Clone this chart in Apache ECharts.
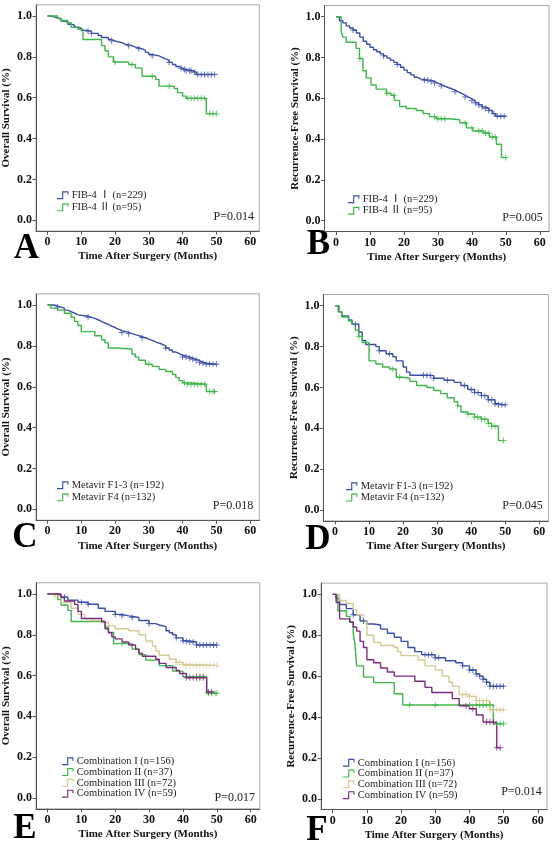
<!DOCTYPE html>
<html><head><meta charset="utf-8">
<script src="https://cdn.jsdelivr.net/npm/echarts@6/dist/echarts.min.js"></script>
<style>html,body{margin:0;padding:0;background:#fff}#c{width:553px;height:844px}</style>
</head><body><div id="c"></div>
<script>
// ---------- tick labels ----------
const xTicks = [0, 10, 20, 30, 40, 50, 60];
const yTicks = [0, 0.2, 0.4, 0.6, 0.8, 1.0];
const xTitle = "Time After Surgery (Months)";
const yTitleOS = "Overall Survival (%)";
const yTitleRFS = "Recurrence-Free Survival (%)";

// ---------- legend names ----------
const namesFIB = ["FIB-4 Ⅰ (n=229)", "FIB-4 Ⅱ (n=95)"];
const namesMeta = ["Metavir F1-3 (n=192)", "Metavir F4 (n=132)"];
const namesComb = ["Combination I (n=156)", "Combination II (n=37)", "Combination III (n=72)", "Combination IV (n=59)"];
const pValues = ["P=0.014", "P=0.005", "P=0.018", "P=0.045", "P=0.017", "P=0.014"];
const panelLetters = ["A", "B", "C", "D", "E", "F"];

// ---------- Panel A: OS by FIB-4 ----------
const aBlueT = [0,1,2,3,4,5,6,7,8,9,10,12,13,15,16,18,19,20,22,23,25,26,28,29,30,31,33,34,35,36,37,38,39,40,41,43,44,49.5];
const aBlueS = [1,0.996,0.99,0.985,0.975,0.97,0.96,0.955,0.945,0.94,0.93,0.925,0.915,0.905,0.895,0.885,0.878,0.87,0.862,0.855,0.848,0.84,0.832,0.822,0.812,0.805,0.797,0.79,0.783,0.773,0.763,0.753,0.744,0.738,0.732,0.725,0.714,0.714];
const aBlueC = [12,13,19,24,27,31,36,39.5,40.5,41,42,42.5,43.5,44.5,45.5,46.5,47.5,48.5,49.5];
const aGreenT = [0,3,4,6,7,9,10.5,16,17,18,19.5,24,26,28,32,33,37.5,38.5,40,41,47,50];
const aGreenS = [1,0.99,0.978,0.967,0.945,0.935,0.885,0.855,0.83,0.80,0.775,0.763,0.745,0.705,0.69,0.657,0.645,0.625,0.608,0.597,0.522,0.522];
const aGreenC = [20,25,31,36,41.5,42.5,43.5,44.5,45.5,46.5,48,49,50];

// ---------- Panel B: RFS by FIB-4 ----------
const bBlueT = [0,1,2,3,4,5,6,7,8,9,10,11,12,13,14,15,16,17,18,19,20,21,22,23,24,25,28,29,30,31,32,33,34,35,36,37,38,39,40,41,42,43,44,45,46,47,50];
const bBlueS = [1,0.98,0.97,0.955,0.945,0.935,0.92,0.9,0.88,0.865,0.85,0.838,0.828,0.818,0.808,0.797,0.787,0.776,0.766,0.752,0.738,0.726,0.715,0.703,0.694,0.688,0.683,0.675,0.667,0.66,0.653,0.647,0.64,0.632,0.624,0.615,0.606,0.597,0.588,0.578,0.568,0.558,0.55,0.54,0.525,0.512,0.512];
const bBlueC = [5,14,18,26,27,28,29,31,35,38,40,41,42,43,44,45,46.5,47.5,48.5,49.5];
const bGreenT = [0,1.5,2,3,5.9,6.9,7.9,8.9,10.3,11.8,14.8,16.2,17.2,18.7,20.7,23.6,25.6,27.5,29.5,33.4,36.4,38.4,40.3,43.3,45.2,47.2,48.7,50];
const bGreenS = [1,0.93,0.9,0.875,0.845,0.795,0.735,0.70,0.665,0.645,0.625,0.615,0.59,0.56,0.55,0.54,0.525,0.51,0.5,0.495,0.48,0.455,0.44,0.43,0.41,0.375,0.31,0.31];
const bGreenC = [7,15,17,29,30,31,32,38,40,42,43,44,45,46,47,50];

// ---------- Panel C: OS by Metavir ----------
const cBlueT = [0,2,3,4,5,6,7,8,9,12,13,14,15,16,17,18,19,20,21,22,24,25,26,27,28,29,30,31,32,33,34,35,36,37,38,39,40,42,43,44,45,46,47,50];
const cBlueS = [1,0.995,0.99,0.985,0.975,0.968,0.96,0.952,0.945,0.94,0.935,0.928,0.92,0.912,0.905,0.897,0.89,0.882,0.875,0.866,0.86,0.855,0.85,0.845,0.84,0.833,0.827,0.82,0.814,0.808,0.8,0.79,0.78,0.77,0.762,0.754,0.746,0.74,0.735,0.728,0.72,0.715,0.71,0.71];
const cBlueC = [3,12,22,24,28,35,40,41,42,43,44,45,46,47,48,49,50];
const cGreenT = [0,1,3,5,7,8,9,10,14,16,17,18,20,25,26,27,29,31,33,35,37,38,39,40,41,47,50];
const cGreenS = [1,0.985,0.975,0.96,0.94,0.92,0.9,0.87,0.85,0.83,0.815,0.79,0.785,0.76,0.745,0.73,0.71,0.7,0.685,0.675,0.66,0.645,0.63,0.62,0.612,0.577,0.577];
const cGreenC = [30,40.5,41.5,42.5,43.5,44.5,45.5,46.5,48,49,49.5];

// ---------- Panel D: RFS by Metavir ----------
const dBlueT = [0,1,2,4,5,7,8,9,12,13,15,17,18,20,21,22,27,29,32,35,37,39,41,43,45,47,48,50];
const dBlueS = [1,0.97,0.95,0.93,0.91,0.87,0.83,0.81,0.8,0.78,0.765,0.75,0.73,0.7,0.675,0.66,0.658,0.645,0.635,0.625,0.61,0.59,0.575,0.56,0.54,0.52,0.515,0.515];
const dBlueC = [6,13,16,26,27,28,29,33,38,40,41,42,43,44,45,46,47,48,49,50];
const dGreenT = [0,1.2,2,4,5,6,7,8,10,12,14,16,18,20,22,24,27,29,31,33,35,36,37,39,41,43,45,46,48,49.5];
const dGreenS = [1,0.97,0.945,0.925,0.91,0.88,0.85,0.82,0.73,0.715,0.70,0.69,0.65,0.645,0.63,0.61,0.60,0.585,0.57,0.55,0.53,0.51,0.48,0.47,0.455,0.445,0.425,0.41,0.34,0.34];
const dGreenC = [7,17,19,36,39,41,42,43,44,45,46,47,49.5];

// ---------- Panel E: OS by combination ----------
const eBlueT = [0,3,4,6,9,12,15,17,20,22,24,27,30,32,33,35,36,37,38,40,42,44,50];
const eBlueS = [1,0.995,0.985,0.97,0.96,0.95,0.93,0.915,0.9,0.893,0.885,0.87,0.855,0.848,0.84,0.82,0.81,0.8,0.785,0.77,0.765,0.75,0.75];
const eBlueC = [5,10,12,20,22,25,30,38,40,41,42,43,44,45,46,47,48,49,50];
const eGreenT = [0,3,4,6,7,17,18,19.5,25,27,29,33,37,40,47,50];
const eGreenS = [1,0.973,0.946,0.92,0.865,0.838,0.811,0.757,0.73,0.703,0.676,0.649,0.622,0.595,0.514,0.514];
const eGreenC = [22,44,45,46,47.5,48.5,49.5,50];
const eTanT = [0,2,4,7,9,11,13,16,18,20,24,27,29,31,32,33,36,38,40,41,50];
const eTanS = [1,0.986,0.96,0.93,0.9,0.88,0.87,0.86,0.845,0.83,0.82,0.8,0.77,0.745,0.72,0.70,0.68,0.665,0.655,0.65,0.65];
const eTanC = [38,39,40,41,42,43,44,45,46,47,48,49,50];
const ePurpleT = [0,4,5,8,9,10,16,17,18,19,20,22,24,26,27,28,32,33,35,38,39,41,47,49];
const ePurpleS = [1,0.983,0.966,0.949,0.915,0.88,0.865,0.83,0.81,0.79,0.78,0.765,0.75,0.73,0.71,0.695,0.68,0.66,0.64,0.625,0.61,0.59,0.52,0.52];
const ePurpleC = [41,42,43,44,45,46,47.5,48.5];

// ---------- Panel F: RFS by combination ----------
const fBlueT = [0,1,2,4,6,8,10,12,14,16,18,20,22,24,26,30,33,36,38,40,42,43,44,45,46,50];
const fBlueS = [1,0.98,0.95,0.93,0.90,0.87,0.855,0.85,0.83,0.81,0.79,0.77,0.74,0.72,0.705,0.69,0.675,0.665,0.65,0.63,0.61,0.6,0.585,0.57,0.55,0.55];
const fBlueC = [6,9,27,28,29,30,31,38,40,41,42,43,44,45,46,47,48,49,50];
const fGreenT = [0,1.5,4,5,6,6.5,7,9,12,18,20.5,47,50];
const fGreenS = [1,0.92,0.892,0.865,0.81,0.757,0.65,0.595,0.568,0.514,0.459,0.367,0.367];
const fGreenC = [22.5,30,40,42,43,44,45,46,48,49,50];
const fTanT = [0,2,4,6,7,9,10,12,14,18,19,20,25,27,30,32,34,35,37,40,42,46,50];
const fTanS = [1,0.97,0.955,0.925,0.90,0.87,0.80,0.765,0.75,0.74,0.72,0.70,0.68,0.65,0.63,0.60,0.57,0.55,0.51,0.50,0.48,0.435,0.435];
const fTanC = [38,39,40,42,43,44,45,46,47,48,49,50];
const fPurpleT = [0,1,2,5,6,7,8,9,10,12,14,16,18,24,27,29,35,37,40,42,44,48,49];
const fPurpleS = [1,0.96,0.88,0.865,0.84,0.82,0.77,0.74,0.68,0.665,0.64,0.62,0.60,0.575,0.545,0.52,0.49,0.455,0.44,0.41,0.375,0.25,0.25];
const fPurpleC = [39,41,45,46,47,48,49];

// ---------- styles ----------
const BLUE = "#3b4ea6", GREEN = "#3fb64a", TAN = "#d5ca92", PURPLE = "#7b2c7e";
const SERIF = "'Liberation Serif','Times New Roman','Noto Sans CJK SC',serif";
const PLUS = "path://M4.2,0 L5.8,0 L5.8,4.2 L10,4.2 L10,5.8 L5.8,5.8 L5.8,10 L4.2,10 L4.2,5.8 L0,5.8 L0,4.2 L4.2,4.2 Z";
const STEPICON = "path://M0,8.6 L6.3,8.6 L6.3,0.2 L14,0.2 L14,4.5 L12.7,4.5 L12.7,1.6 L7.7,1.6 L7.7,10 L0,10 Z";

const panels = [
  {grid:{left:32.6, top:4.8, width:226.7, height:226.3}, yName:yTitleOS,
   curves:[[namesFIB[0],aBlueT,aBlueS,aBlueC,BLUE],[namesFIB[1],aGreenT,aGreenS,aGreenC,GREEN]],
   legend:{left:57, top:190, gap:1.6}, p:[254,217], letter:[26.5,249]},
  {grid:{left:324.5, top:5.5, width:224.5, height:226.0}, yName:yTitleRFS,
   curves:[[namesFIB[0],bBlueT,bBlueS,bBlueC,BLUE],[namesFIB[1],bGreenT,bGreenS,bGreenC,GREEN]],
   legend:{left:348, top:194, gap:1.0}, p:[542.7,218.3], letter:[318.5,244.5]},
  {grid:{left:33.4, top:293.8, width:225.9, height:226.4}, yName:yTitleOS,
   curves:[[namesMeta[0],cBlueT,cBlueS,cBlueC,BLUE],[namesMeta[1],cGreenT,cGreenS,cGreenC,GREEN]],
   legend:{left:57, top:480, gap:1.6}, p:[253.3,506], letter:[25,537.5]},
  {grid:{left:323.4, top:294.5, width:225.1, height:226.4}, yName:yTitleRFS,
   curves:[[namesMeta[0],dBlueT,dBlueS,dBlueC,BLUE],[namesMeta[1],dGreenT,dGreenS,dGreenC,GREEN]],
   legend:{left:346, top:481, gap:0.8}, p:[542.7,506], letter:[318,539.5]},
  {grid:{left:35.1, top:582.8, width:224.7, height:226}, yName:yTitleOS,
   curves:[[namesComb[0],eBlueT,eBlueS,eBlueC,BLUE],[namesComb[1],eGreenT,eGreenS,eGreenC,GREEN],
           [namesComb[2],eTanT,eTanS,eTanC,TAN],[namesComb[3],ePurpleT,ePurpleS,ePurpleC,PURPLE]],
   legend:{left:62, top:756, gap:0.3}, p:[255,798.3], letter:[25,828.5]},
  {grid:{left:321.1, top:583.1, width:225.9, height:226.5}, yName:yTitleRFS,
   curves:[[namesComb[0],fBlueT,fBlueS,fBlueC,BLUE],[namesComb[1],fGreenT,fGreenS,fGreenC,GREEN],
           [namesComb[2],fTanT,fTanS,fTanC,TAN],[namesComb[3],fPurpleT,fPurpleS,fPurpleC,PURPLE]],
   legend:{left:343, top:757.5, gap:0.3}, p:[541.7,792.3], letter:[317,830.5]}
];

function stepAt(t, s, x) {
  let v = s[0];
  for (let i = 0; i < t.length; i++) { if (t[i] <= x) v = s[i]; else break; }
  return v;
}

const option = {
  backgroundColor: "#fff",
  animation: false,
  grid: [], xAxis: [], yAxis: [], series: [], legend: [], graphic: []
};

panels.forEach((p, k) => {
  option.grid.push(Object.assign({show:true, borderColor:"#a8a8a8", borderWidth:1, containLabel:false}, p.grid));
  option.xAxis.push({
    type:"value", gridIndex:k, min:-3.4, max:62.7,
    name:xTitle, nameLocation:"middle", nameGap:20,
    nameTextStyle:{fontFamily:SERIF, fontWeight:"bold", fontSize:11, color:"#111"},
    axisLine:{show:true, onZero:false, lineStyle:{color:"#555", width:1}},
    axisTick:{show:true, length:3.5, customValues:xTicks, lineStyle:{color:"#555"}},
    axisLabel:{customValues:xTicks, margin:5, fontFamily:SERIF, fontWeight:"bold", fontSize:12, color:"#111"},
    splitLine:{show:false}
  });
  option.yAxis.push({
    type:"value", gridIndex:k, min:-0.053, max:1.055,
    name:p.yName, nameLocation:"middle", nameGap:24, nameRotate:90,
    nameTextStyle:{fontFamily:SERIF, fontWeight:"bold", fontSize:11, color:"#111"},
    axisLine:{show:true, onZero:false, lineStyle:{color:"#555", width:1}},
    axisTick:{show:true, length:3.5, customValues:yTicks, lineStyle:{color:"#555"}},
    axisLabel:{customValues:yTicks, margin:4, fontFamily:SERIF, fontWeight:"bold", fontSize:12, color:"#111",
               formatter:(v)=>Number(v).toFixed(1)},
    splitLine:{show:false}
  });
  const legendNames = [];
  p.curves.forEach(([name, t, s, cens, color]) => {
    legendNames.push(name);
    option.series.push({
      type:"line", name:name, xAxisIndex:k, yAxisIndex:k, step:"end",
      data:t.map((x,i)=>[x, s[i]]), showSymbol:false, symbol:"none",
      color:color, lineStyle:{color:color, width:1.4}, itemStyle:{color:color}, z:3
    });
    option.series.push({
      type:"scatter", name:"censor-"+k+"-"+name, xAxisIndex:k, yAxisIndex:k,
      data:cens.map(x=>[x, stepAt(t, s, x)]), symbol:PLUS, symbolSize:6,
      itemStyle:{color:color}, z:4, silent:true
    });
  });
  option.legend.push({
    data:legendNames, orient:"vertical", left:p.legend.left, top:p.legend.top,
    itemGap:p.legend.gap, itemWidth:12, itemHeight:8, icon:STEPICON, padding:0,
    itemStyle:{borderWidth:0}, selectedMode:false,
    textStyle:{fontFamily:SERIF, fontSize:10.5, color:"#222", lineHeight:10, padding:[0,0,0,-2]}
  });
  option.graphic.push({
    type:"text", x:p.p[0], y:p.p[1],
    style:{text:pValues[k], font:"12px "+SERIF, fill:"#222", textAlign:"right", textVerticalAlign:"middle"}
  });
  option.graphic.push({
    type:"text", x:p.letter[0], y:p.letter[1],
    style:{text:panelLetters[k], font:"bold 35px "+SERIF, fill:"#000", textAlign:"center", textVerticalAlign:"middle"}
  });
});

const chart = echarts.init(document.getElementById("c"), null, {renderer:"canvas"});
chart.setOption(option);
</script></body></html>
